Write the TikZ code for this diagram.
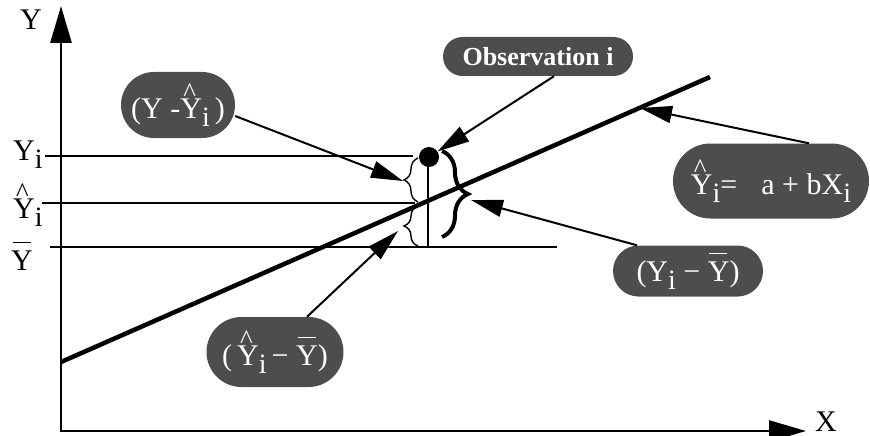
\documentclass[tikz,border=0pt]{standalone}
\usepackage{fontspec}
\setmainfont{Liberation Serif}
\usetikzlibrary{arrows.meta,decorations.pathreplacing}
\definecolor{pillgray}{RGB}{77,77,77}
\newcommand\hY{\leavevmode\rlap{\hspace{3pt}\raisebox{16.5pt}{\fontsize{27}{27}\selectfont\textasciicircum}}Y}
\newcommand\bY{\leavevmode\rlap{\hspace{1.5pt}\rule[27pt]{18pt}{1.5pt}}Y}
\newcommand\sbi{\raisebox{-8pt}{\fontsize{28}{28}\selectfont i}}
\begin{document}
\begin{tikzpicture}[x=1pt,y=-1pt,
  big/.style={font=\fontsize{30}{36}\selectfont},
  lbl/.style={big, inner sep=0pt, anchor=base west},
  pill/.style={big, fill=pillgray, text=white, inner sep=0pt},
  arr/.style={line width=2pt, -{Triangle[length=32pt,width=17pt]}},
  hline/.style={line width=2pt},
  bracesmall/.style={decorate, decoration={brace, amplitude=14pt}, line width=1.4pt},
  bracebig/.style={decorate, decoration={brace, amplitude=26pt}, line width=4pt}]
\useasboundingbox (0,0) rectangle (870,436);
% axes
\draw[line width=2.7pt, {Triangle[length=37pt,width=21pt]}-{Triangle[length=37pt,width=21pt]}] (61,6) -- (61,431) -- (806,431);
\node[lbl] (ly) at (20,30) {Y};
\node[lbl] (lx) at (815,431) {X};
% level lines
\draw[hline] (45,156) -- (413,156);
\draw[hline] (42,203) -- (415,203);
\draw[hline] (50,247) -- (557,247);
\node[lbl] (lyi) at (13,160) {Y\sbi};
\node[lbl] (lyh) at (13,218) {\hY\sbi};
\node[lbl] (lyb) at (11,270) {\bY};
% vertical segment and observation
\draw[hline] (428,157) -- (428,246);
% regression line
\draw[line width=4.5pt] (61,362) -- (710,77);
% braces
\draw[bracesmall] (418,202) -- (418,158);
\draw[bracesmall] (418,246) -- (418,206);
\draw[bracebig] (442,151) -- (442,237);
\node[circle, fill=black, minimum size=20pt, inner sep=0pt] (dot) at (429,157) {};
% targets
\coordinate (tA) at (403,181);
\coordinate (tB) at (471,200);
\coordinate (tC) at (398,231);
\coordinate (tR) at (640,108);
% labels
\node[pill, minimum width=114pt, minimum height=66pt, rounded corners=33pt] (nA) at (178,105) {(Y -\hY\sbi\,)};
\node[pill, minimum width=190pt, minimum height=39pt, rounded corners=19.5pt, font=\fontsize{26}{30}\selectfont\bfseries] (nObs) at (538,56.5) {Observation i};
\node[pill, minimum width=196pt, minimum height=75pt, rounded corners=37.5pt] (nEq) at (771,181) {\hY\sbi=\hspace{24pt}a + bX\sbi};
\node[pill, minimum width=150pt, minimum height=51pt, rounded corners=25.5pt] (nB) at (688,271) {(Y\sbi\ − \bY)};
\node[pill, minimum width=137pt, minimum height=70pt, rounded corners=35pt] (nC) at (275,352) {(\,\hY\sbi\,−\ \bY)};
% connectors
\draw[arr] ([yshift=-11pt]nA.east) -- (tA);
\draw[arr] ([xshift=16pt]nObs.south) -- (dot);
\draw[arr] ([xshift=38pt]nEq.north) -- (tR);
\draw[arr] ([xshift=-51pt]nB.north) -- (tB);
\draw[arr] ([xshift=32pt]nC.north) -- (tC);
\end{tikzpicture}
\end{document}
